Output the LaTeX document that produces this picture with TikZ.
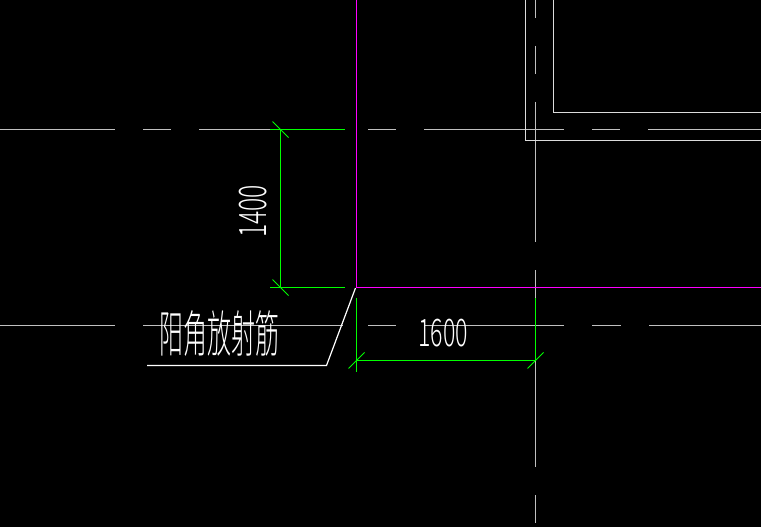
\documentclass[tikz,border=0pt]{standalone}
\usepackage{fontspec}
\newfontfamily\cjk{Noto Sans CJK SC Light}
\usetikzlibrary{positioning,calc}

\definecolor{axisgray}{HTML}{C0C0C0}
\definecolor{wallgray}{HTML}{DCDCDC}
\definecolor{cadgreen}{HTML}{00FF00}
\definecolor{cadpink}{HTML}{FF00FF}

\begin{document}
\begin{tikzpicture}[
  x=1pt, y=-1pt,
  axisline/.style={axisgray, line width=1.2pt},
  wall/.style={wallgray, line width=1.2pt},
  dimline/.style={cadgreen, line width=1.3pt},
  tick/.style={cadgreen, line width=1pt},
  rebar/.style={cadpink, line width=1.4pt},
  leader/.style={white, line width=1.2pt},
  dimtext/.style={white, inner sep=0pt, font=\cjk\fontsize{38}{38}\selectfont},
  lbl/.style={white, inner sep=0pt, font=\cjk\fontsize{50}{50}\selectfont}
]

% background
\fill[black] (0,0) rectangle (761,527);
\useasboundingbox (0,0) rectangle (761,527);

% axes
\foreach \a/\b in {0/115,143/171,199/270,368/396,424/564,592/620,648/761}
  \draw[axisline] (\a,129.5) -- (\b,129.5);
\foreach \a/\b in {0/115,143/343,368/396,424/564,592/621,649/761}
  \draw[axisline] (\a,325.5) -- (\b,325.5);
\foreach \a/\b in {0/18,46/74,102/242,270/467,495/523}
  \draw[axisline] (535.5,\a) -- (535.5,\b);

% walls
\draw[wall] (525.5,0) -- (525.5,140.5) -- (761,140.5);
\draw[wall] (553.5,0) -- (553.5,112.5) -- (761,112.5);

% corner points
\coordinate (top) at (356.5,0);
\coordinate (corner) at (356.5,287.5);
\coordinate (east) at (761,287.5);
\coordinate (dimA) at (280.5,129.5);
\coordinate (dimB) at (280.5,287.5);
\coordinate (dimC) at (356.5,360.5);
\coordinate (dimD) at (535.5,360.5);

% dimensions
\draw[dimline] (dimA) -- (dimB);
\draw[dimline] (dimC) -- (dimD);
\draw[dimline] (270,129.5) -- (345,129.5);
\draw[dimline] (270,287.5) -- (345,287.5);
\draw[dimline] (356.5,298) -- (356.5,371.5);
\draw[dimline] (535.5,298) -- (dimD);
\foreach \p in {dimA,dimB}
  \draw[tick] ($(\p)+(-8,-8)$) -- ($(\p)+(8,8)$);
\foreach \p in {dimC,dimD}
  \draw[tick] ($(\p)+(-8,8)$) -- ($(\p)+(8,-8)$);

% rebar
\draw[rebar] (top) -- (corner) -- (east);

% leader
\coordinate (kink) at (326.5,365.5);
\draw[leader] (355.5,288) -- (kink) -- (147,365.5);

% labels
\node[lbl] (rebarlabel) at (219,333.5) {\scalebox{.48}[1]{阳角放射筋}};
\node[dimtext, rotate=90] (dimv) at (253,211.5) {\scalebox{.65}[1]{1400}};
\node[dimtext] (dimh) at (443,333) {\scalebox{.61}[1]{1600}};

\end{tikzpicture}
\end{document}
